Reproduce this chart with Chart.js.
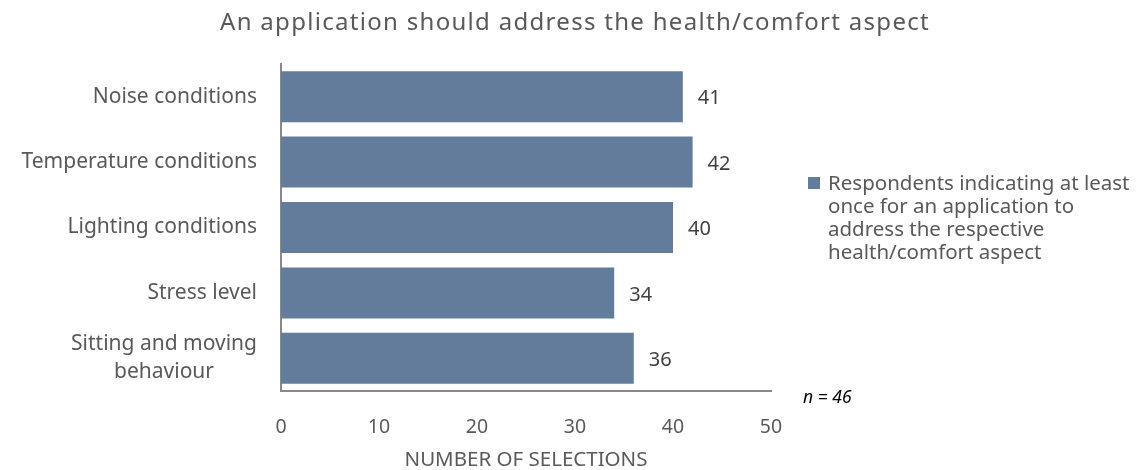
<!DOCTYPE html>
<html>
<head>
<meta charset="utf-8">
<title>Health/comfort aspect</title>
<script src="https://cdn.jsdelivr.net/npm/chart.js@4.4.1/dist/chart.umd.min.js"></script>
<style>
  html, body { margin: 0; padding: 0; background: #fff; }
  canvas { display: block; }
</style>
</head>
<body>
<canvas id="chart" width="1139" height="470"></canvas>
<script>
// chart values
const categories = ['Noise conditions', 'Temperature conditions', 'Lighting conditions', 'Stress level', ['Sitting and moving', 'behaviour']];
const selections = [41, 42, 40, 34, 36];
const xTicks = [0, 10, 20, 30, 40, 50];
const seriesLabel = ['Respondents indicating at least', 'once for an application to', 'address the respective', 'health/comfort aspect'];
const chartTitle = 'An application should address the health/comfort aspect';
const axisTitle = 'NUMBER OF SELECTIONS';
const sampleNote = 'n = 46';

const FONT = '"Noto Sans", "Open Sans", sans-serif';
const GREY = '#595959';
const BAR = '#637c9c';

// draws title, y labels, value labels, legend and the n note
const extras = {
    id: 'extras',
    afterDatasetsDraw(chart) {
        const ctx = chart.ctx;
        const meta = chart.getDatasetMeta(0);
        ctx.save();
        ctx.font = '20px ' + FONT;
        ctx.fillStyle = '#404040';
        ctx.textAlign = 'left';
        ctx.textBaseline = 'middle';
        meta.data.forEach((bar, i) => {
            ctx.fillText(String(selections[i]), bar.x + 15, bar.y + 2);
        });
        ctx.restore();
    },
    afterDraw(chart) {
        const ctx = chart.ctx;
        const yScale = chart.scales.y;
        ctx.save();

        // title
        ctx.font = '24px ' + FONT;
        ctx.fillStyle = GREY;
        ctx.textAlign = 'center';
        ctx.textBaseline = 'middle';
        ctx.letterSpacing = '1.3px';
        ctx.fillText(chartTitle, 575, 23);
        ctx.letterSpacing = '0px';

        // category labels: block right aligned, lines centred inside it
        ctx.font = '21px ' + FONT;
        const lh = 28;
        categories.forEach((c, i) => {
            const lines = Array.isArray(c) ? c : [c];
            const w = Math.max(...lines.map(l => ctx.measureText(l).width));
            const right = yScale.right - 24;
            const cy = yScale.getPixelForTick(i);
            lines.forEach((l, j) => {
                const y = cy + (j - (lines.length - 1) / 2) * lh;
                ctx.fillText(l, right - w / 2, y);
            });
        });

        // legend
        ctx.font = '20.5px ' + FONT;
        ctx.fillStyle = BAR;
        ctx.fillRect(808, 177, 12, 12);
        ctx.fillStyle = GREY;
        ctx.textAlign = 'left';
        seriesLabel.forEach((l, j) => ctx.fillText(l, 828, 184 + j * 23));

        // sample size
        ctx.font = 'italic 17.5px ' + FONT;
        ctx.fillStyle = '#000';
        ctx.fillText(sampleNote, 803, 398);
        ctx.restore();
    }
};

new Chart(document.getElementById('chart'), {
    type: 'bar',
    data: {
        labels: categories,
        datasets: [{
            label: seriesLabel.join(' '),
            data: selections,
            backgroundColor: BAR,
            categoryPercentage: 1,
            barPercentage: 0.78
        }]
    },
    options: {
        indexAxis: 'y',
        responsive: false,
        animation: false,
        layout: { padding: { top: 64, right: 368, bottom: 0, left: 0 } },
        plugins: {
            legend: { display: false },
            title: { display: false },
            tooltip: { enabled: false }
        },
        scales: {
            x: {
                min: 0,
                max: 50,
                afterBuildTicks: s => { s.ticks = xTicks.map(v => ({ value: v })); },
                afterFit: s => { s.height = 79; },
                grid: { display: false, drawTicks: false },
                border: { display: true, color: '#898989', width: 2 },
                ticks: { font: { family: FONT, size: 19.5 }, color: GREY, padding: 25, maxRotation: 0 },
                title: { display: true, text: axisTitle, font: { family: FONT, size: 20.5, lineHeight: 1 }, color: GREY, padding: { top: 0, bottom: 0 } }
            },
            y: {
                afterFit: s => { s.width = 281; },
                grid: { display: false, drawTicks: false },
                border: { display: true, color: '#898989', width: 2 },
                ticks: { display: false }
            }
        }
    },
    plugins: [extras]
});
</script>
</body>
</html>
